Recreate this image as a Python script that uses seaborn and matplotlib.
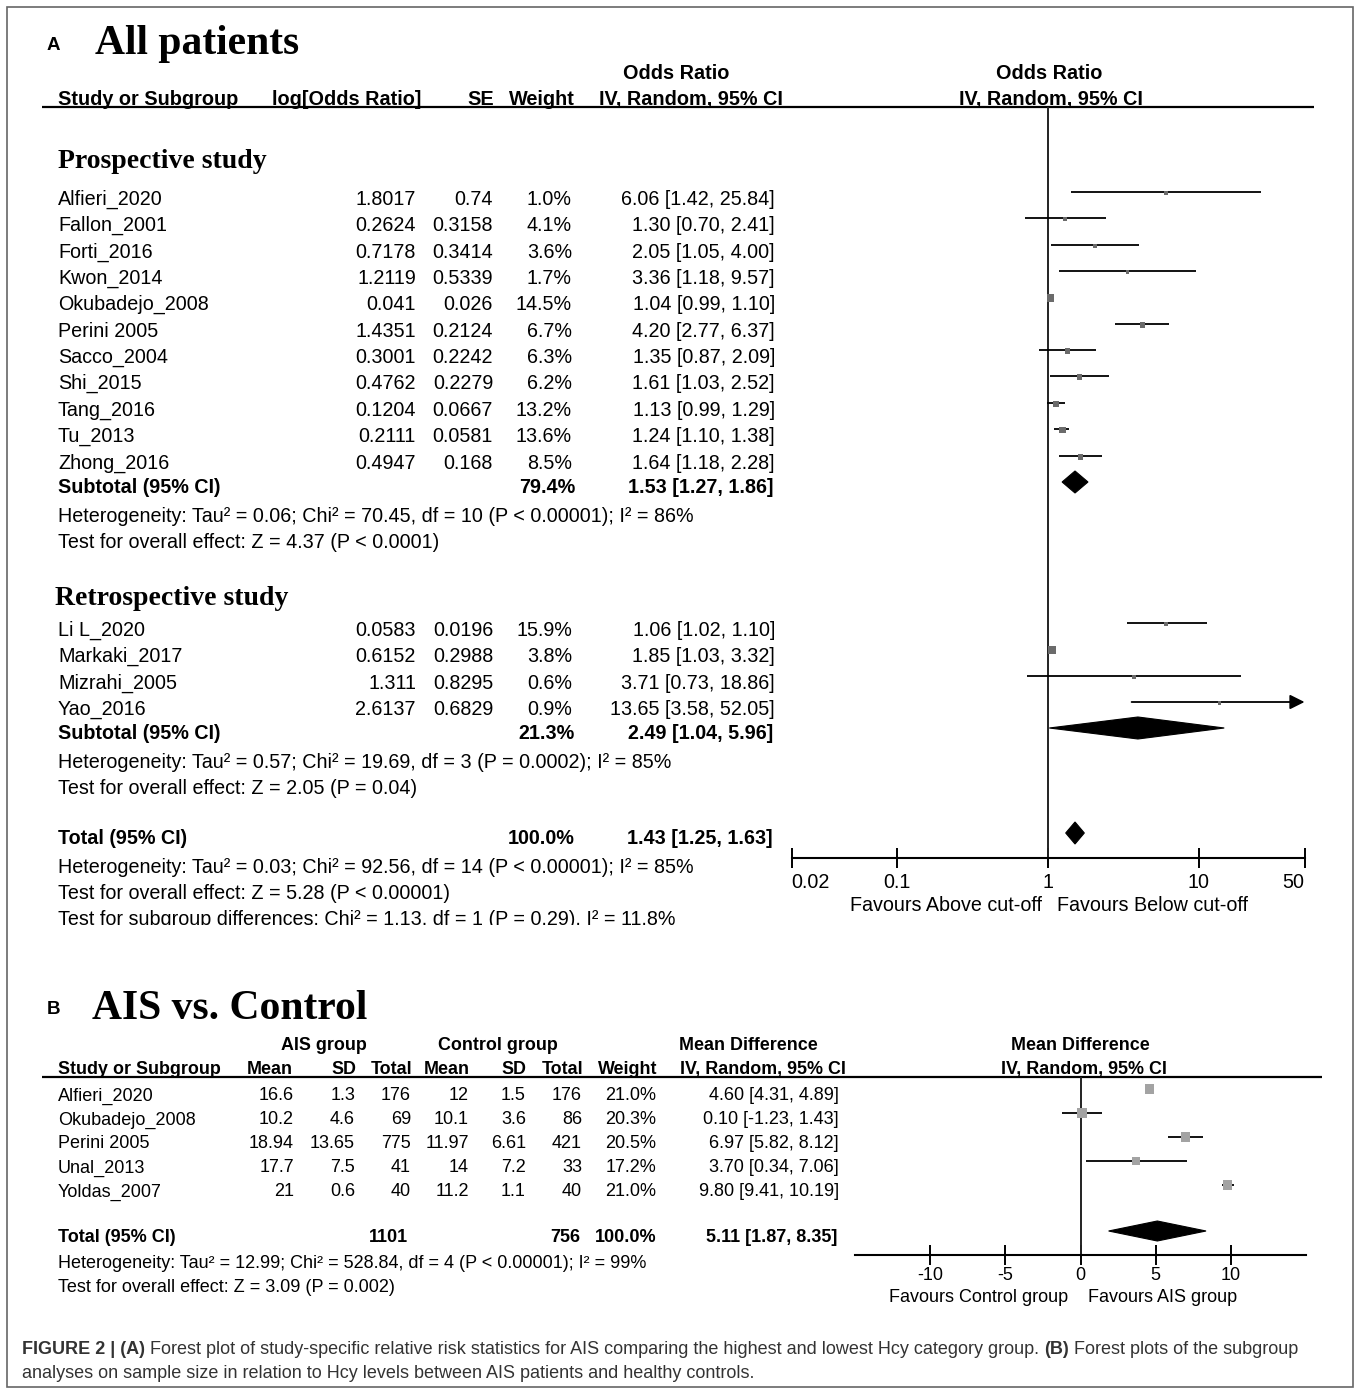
import matplotlib
matplotlib.use("Agg")
import matplotlib.pyplot as plt
from matplotlib import font_manager
from matplotlib.patches import Polygon, Rectangle
import seaborn as sns

# ---------------- data: panel A (odds ratios) ----------------
pro_names = ['Alfieri_2020', 'Fallon_2001', 'Forti_2016', 'Kwon_2014', 'Okubadejo_2008',
             'Perini 2005', 'Sacco_2004', 'Shi_2015', 'Tang_2016', 'Tu_2013', 'Zhong_2016']
pro_logor = ['1.8017', '0.2624', '0.7178', '1.2119', '0.041', '1.4351', '0.3001', '0.4762',
             '0.1204', '0.2111', '0.4947']
pro_se = ['0.74', '0.3158', '0.3414', '0.5339', '0.026', '0.2124', '0.2242', '0.2279',
          '0.0667', '0.0581', '0.168']
pro_weight = [1.0, 4.1, 3.6, 1.7, 14.5, 6.7, 6.3, 6.2, 13.2, 13.6, 8.5]
pro_or = [6.06, 1.30, 2.05, 3.36, 1.04, 4.20, 1.35, 1.61, 1.13, 1.24, 1.64]
pro_lo = [1.42, 0.70, 1.05, 1.18, 0.99, 2.77, 0.87, 1.03, 0.99, 1.10, 1.18]
pro_hi = [25.84, 2.41, 4.00, 9.57, 1.10, 6.37, 2.09, 2.52, 1.29, 1.38, 2.28]
pro_sub = (1.53, 1.27, 1.86, 79.4)

ret_names = ['Li L_2020', 'Markaki_2017', 'Mizrahi_2005', 'Yao_2016']
ret_logor = ['0.0583', '0.6152', '1.311', '2.6137']
ret_se = ['0.0196', '0.2988', '0.8295', '0.6829']
ret_weight = [15.9, 3.8, 0.6, 0.9]
ret_or = [1.06, 1.85, 3.71, 13.65]
ret_lo = [1.02, 1.03, 0.73, 3.58]
ret_hi = [1.10, 3.32, 18.86, 52.05]
ret_sub = (2.49, 1.04, 5.96, 21.3)
tot_a = (1.43, 1.25, 1.63, 100.0)

# the drawn marks in the source figure do not all match the printed numbers;
pro_sub_draw = (1.51, 1.24, 1.84)
ret_draw_or = [6.04, 1.06, 3.71, 13.65]
ret_draw_lo = [3.34, 1.02, 0.73, 3.58]
ret_draw_hi = [11.3, 1.10, 18.86, 52.05]
ret_draw_w = [1.0, 15.9, 0.6, 0.9]
ret_sub_draw = (3.94, 1.02, 14.7)
tot_a_draw = (1.51, 1.31, 1.74)

het_pro = 'Heterogeneity: Tau² = 0.06; Chi² = 70.45, df = 10 (P < 0.00001); I² = 86%'
eff_pro = 'Test for overall effect: Z = 4.37 (P < 0.0001)'
het_ret = 'Heterogeneity: Tau² = 0.57; Chi² = 19.69, df = 3 (P = 0.0002); I² = 85%'
eff_ret = 'Test for overall effect: Z = 2.05 (P = 0.04)'
het_tot = 'Heterogeneity: Tau² = 0.03; Chi² = 92.56, df = 14 (P < 0.00001); I² = 85%'
eff_tot = 'Test for overall effect: Z = 5.28 (P < 0.00001)'
sub_diff = 'Test for subgroup differences: Chi² = 1.13, df = 1 (P = 0.29), I² = 11.8%'
or_ticks = [0.02, 0.1, 1, 10, 50]
or_ticklabels = ['0.02', '0.1', '1', '10', '50']

# ---------------- data: panel B (mean difference) ----------------
b_names = ['Alfieri_2020', 'Okubadejo_2008', 'Perini 2005', 'Unal_2013', 'Yoldas_2007']
b_mean1 = ['16.6', '10.2', '18.94', '17.7', '21']
b_sd1 = ['1.3', '4.6', '13.65', '7.5', '0.6']
b_n1 = [176, 69, 775, 41, 40]
b_mean2 = ['12', '10.1', '11.97', '14', '11.2']
b_sd2 = ['1.5', '3.6', '6.61', '7.2', '1.1']
b_n2 = [176, 86, 421, 33, 40]
b_weight = [21.0, 20.3, 20.5, 17.2, 21.0]
b_md = [4.60, 0.10, 6.97, 3.70, 9.80]
b_lo = [4.31, -1.23, 5.82, 0.34, 9.41]
b_hi = [4.89, 1.43, 8.12, 7.06, 10.19]
b_tot = (5.11, 1.87, 8.35)
het_b = 'Heterogeneity: Tau² = 12.99; Chi² = 528.84, df = 4 (P < 0.00001); I² = 99%'
eff_b = 'Test for overall effect: Z = 3.09 (P = 0.002)'
md_ticks = [-10, -5, 0, 5, 10]

caption1 = [('FIGURE 2 | (A)', True),
            (' Forest plot of study-specific relative risk statistics for AIS comparing the highest and lowest Hcy category group. ', False),
            ('(B)', True), (' Forest plots of the subgroup', False)]
caption2 = 'analyses on sample size in relation to Hcy levels between AIS patients and healthy controls.'

# ---------------- style ----------------
sns.set_theme(style='white')
installed = {f.name for f in font_manager.fontManager.ttflist}
SANS = 'Liberation Sans' if 'Liberation Sans' in installed else 'DejaVu Sans'
SERIF = 'Liberation Serif' if 'Liberation Serif' in installed else 'DejaVu Serif'
plt.rcParams['font.family'] = [SANS, 'DejaVu Sans']
plt.rcParams['text.color'] = 'black'

W, H = 1357, 1388
fig = plt.figure(figsize=(W / 100, H / 100), dpi=100)
fig.patch.set_facecolor('white')

# overlay in pixel coordinates for all table text
tx = fig.add_axes([0, 0, 1, 1])
tx.set_xlim(0, W)
tx.set_ylim(H, 0)
tx.axis('off')

FS_A = 14.2     # body text panel A
HD_A = 14.3     # bold headers panel A
FS_B = 13.0
HD_B = 12.85
FS_CAP = 12.95


def put(x, y, s, ha='left', fs=FS_A, bold=False, **kw):
    # y is the visual middle of capitals; convert to baseline
    cap = fs * 100 / 72 * 0.716
    return tx.text(x, y + cap / 2, s, ha=ha, va='baseline', fontsize=fs,
                   fontweight='bold' if bold else 'normal', **kw)


def sq_side(w):
    # box side in px grows with study weight
    return 3.5 + 0.25 * w


def fax(x0, x1, y0, y1):
    return fig.add_axes([x0 / W, 1 - y1 / H, (x1 - x0) / W, (y1 - y0) / H])


def style_axis(ax, fs, pad):
    ax.minorticks_off()
    ax.tick_params(axis='x', direction='inout', length=14, width=1.4, pad=pad,
                   labelsize=fs, colors='black', bottom=True)
    ax.set_yticks([])
    for sp in ['top', 'left', 'right']:
        ax.spines[sp].set_visible(False)
    ax.spines['bottom'].set_color('black')
    ax.spines['bottom'].set_linewidth(1.5)
    ax.patch.set_alpha(0)


# ================= panel A =================
put(47, 43, 'A', fs=13.5, bold=True)
tx.text(95, 54, 'All patients', fontsize=30, fontweight='bold', family=SERIF, va='baseline')

put(676, 72, 'Odds Ratio', ha='center', bold=True, fs=HD_A)
put(1049, 72, 'Odds Ratio', ha='center', bold=True, fs=HD_A)
put(58, 98, 'Study or Subgroup', bold=True, fs=HD_A)
put(347, 98, 'log[Odds Ratio]', ha='center', bold=True, fs=HD_A)
put(494, 98, 'SE', ha='right', bold=True, fs=HD_A)
put(575, 98, 'Weight', ha='right', bold=True, fs=HD_A)
put(691, 98, 'IV, Random, 95% CI', ha='center', bold=True, fs=HD_A)
put(1051, 98, 'IV, Random, 95% CI', ha='center', bold=True, fs=HD_A)
tx.plot([42, 1314], [107, 107], color='black', lw=1.6, solid_capstyle='butt')

tx.text(58, 168, 'Prospective study', fontsize=20, fontweight='bold', family=SERIF, va='baseline')
tx.text(55, 605, 'Retrospective study', fontsize=20, fontweight='bold', family=SERIF, va='baseline')

ROW_A = 26.35
pro_y = [round(198 + i * ROW_A) for i in range(len(pro_names))]
ret_y = [round(629 + i * ROW_A) for i in range(len(ret_names))]


def or_row(y, name, lg, se, w, o, lo, hi):
    put(58, y, name)
    put(416, y, lg, ha='right')
    put(493, y, se, ha='right')
    put(572, y, f'{w:.1f}%', ha='right')
    put(775, y, f'{o:.2f} [{lo:.2f}, {hi:.2f}]', ha='right')


for i in range(len(pro_names)):
    or_row(pro_y[i], pro_names[i], pro_logor[i], pro_se[i], pro_weight[i],
           pro_or[i], pro_lo[i], pro_hi[i])
for i in range(len(ret_names)):
    or_row(ret_y[i], ret_names[i], ret_logor[i], ret_se[i], ret_weight[i],
           ret_or[i], ret_lo[i], ret_hi[i])

for y, lab, sub in [(486, 'Subtotal (95% CI)', pro_sub), (732, 'Subtotal (95% CI)', ret_sub),
                    (837, 'Total (95% CI)', tot_a)]:
    put(58, y, lab, bold=True)
    put(575, y, f'{sub[3]:.1f}%', ha='right', bold=True)
    put(773, y, f'{sub[0]:.2f} [{sub[1]:.2f}, {sub[2]:.2f}]', ha='right', bold=True)

put(58, 515, het_pro)
put(58, 541, eff_pro)
put(58, 761, het_ret)
put(58, 787, eff_ret)
put(58, 866, het_tot)
put(58, 892, eff_tot)
put(58, 918, sub_diff)
# the source crops the last line of panel A
tx.add_patch(Rectangle((20, 925), 760, 30, facecolor='white', edgecolor='none', zorder=5))

put(1042, 904, 'Favours Above cut-off', ha='right')
put(1057, 904, 'Favours Below cut-off', ha='left')

# forest plot A (log scale, y in pixel units)
axA = fax(791.5, 1304.5, 107, 858)
axA.set_xscale('log')
axA.set_xlim(0.02, 50)
axA.set_ylim(858, 107)
axA.axvline(1, color='#222222', lw=1.4, zorder=1)

ys_pts = [y - 6 for y in pro_y] + [y - 6 for y in ret_y]
est = pro_or + ret_draw_or
los = pro_lo + ret_draw_lo
his = pro_hi + ret_draw_hi
wts = pro_weight + ret_draw_w
for y, lo, hi in zip(ys_pts, los, his):
    if hi > 50:
        axA.annotate('', xy=(50, y), xytext=(lo, y),
                     arrowprops=dict(arrowstyle='-|>', color='black', lw=1.3,
                                     mutation_scale=22, shrinkA=0, shrinkB=0))
    else:
        axA.hlines(y, lo, hi, color='black', lw=1.3, zorder=2)
sizes = [(sq_side(w) * 0.72) ** 2 for w in wts]
sns.scatterplot(x=est, y=[y + 1 for y in ys_pts], marker='s', s=sizes, color='#6b6b6b',
                linewidth=0, ax=axA, legend=False, zorder=3)

for (c, lo, hi), y in [(pro_sub_draw, 482), (ret_sub_draw, 728), (tot_a_draw, 833)]:
    axA.add_patch(Polygon([(lo, y), (c, y - 11), (hi, y), (c, y + 11)],
                          closed=True, facecolor='black', edgecolor='black', lw=0.8, zorder=3))

axA.set_xticks(or_ticks)
axA.set_xticklabels(or_ticklabels)
style_axis(axA, FS_A, 4)
axA.get_xticklabels()[0].set_ha('left')
axA.get_xticklabels()[-1].set_ha('right')

# ================= panel B =================
put(47, 1007, 'B', fs=13.5, bold=True)
tx.text(92, 1019, 'AIS vs. Control', fontsize=30, fontweight='bold', family=SERIF, va='baseline')

put(324, 1044, 'AIS group', ha='center', bold=True, fs=HD_B)
put(498, 1044, 'Control group', ha='center', bold=True, fs=HD_B)
put(748, 1044, 'Mean Difference', ha='center', bold=True, fs=HD_B)
put(1080, 1044, 'Mean Difference', ha='center', bold=True, fs=HD_B)
hdr = [(58, 'Study or Subgroup', 'left'), (293, 'Mean', 'right'), (356, 'SD', 'right'),
       (412, 'Total', 'right'), (470, 'Mean', 'right'), (526, 'SD', 'right'),
       (583, 'Total', 'right'), (657, 'Weight', 'right'),
       (763, 'IV, Random, 95% CI', 'center'), (1084, 'IV, Random, 95% CI', 'center')]
for x, s, ha in hdr:
    put(x, 1068, s, ha=ha, bold=True, fs=HD_B)
tx.plot([42, 1322], [1077, 1077], color='black', lw=1.6, solid_capstyle='butt')

ROW_B = 24
b_y = [1094 + i * ROW_B for i in range(len(b_names))]
for i, y in enumerate(b_y):
    put(58, y, b_names[i], fs=FS_B)
    put(294, y, b_mean1[i], ha='right', fs=FS_B)
    put(355, y, b_sd1[i], ha='right', fs=FS_B)
    put(411, y, str(b_n1[i]), ha='right', fs=FS_B)
    put(469, y, b_mean2[i], ha='right', fs=FS_B)
    put(526, y, b_sd2[i], ha='right', fs=FS_B)
    put(582, y, str(b_n2[i]), ha='right', fs=FS_B)
    put(656, y, f'{b_weight[i]:.1f}%', ha='right', fs=FS_B)
    put(839, y, f'{b_md[i]:.2f} [{b_lo[i]:.2f}, {b_hi[i]:.2f}]', ha='right', fs=FS_B)

put(58, 1236, 'Total (95% CI)', bold=True, fs=FS_B)
put(408, 1236, str(sum(b_n1)), ha='right', bold=True, fs=FS_B)
put(580, 1236, str(sum(b_n2)), ha='right', bold=True, fs=FS_B)
put(657, 1236, f'{sum(b_weight):.1f}%', ha='right', bold=True, fs=FS_B)
put(837, 1236, f'{b_tot[0]:.2f} [{b_tot[1]:.2f}, {b_tot[2]:.2f}]', ha='right', bold=True, fs=FS_B)
put(58, 1262, het_b, fs=FS_B)
put(58, 1286, eff_b, fs=FS_B)

put(1068, 1296, 'Favours Control group', ha='right', fs=12.95)
put(1088, 1296, 'Favours AIS group', ha='left', fs=12.95)

axB = fax(855, 1306, 1077, 1255)
axB.set_xlim(-15, 15)
axB.set_ylim(1255, 1077)
axB.axvline(0, color='#222222', lw=1.4, zorder=1)
yb = [y - 5 for y in b_y]
axB.hlines(yb, b_lo, b_hi, color='black', lw=1.3, zorder=2)
sns.scatterplot(x=b_md, y=yb, marker='s', s=[((4 + 0.25 * w) * 0.72) ** 2 for w in b_weight],
                color='#a3a3a3', linewidth=0, ax=axB, legend=False, zorder=3)
yt = 1231
axB.add_patch(Polygon([(b_tot[1], yt), (b_tot[0], yt - 10), (b_tot[2], yt), (b_tot[0], yt + 10)],
                      closed=True, facecolor='black', edgecolor='black', lw=0.8, zorder=3))
axB.set_xticks(md_ticks)
axB.set_xticklabels([str(t) for t in md_ticks])
style_axis(axB, 13.0, 1.5)

# ================= caption =================
fig.canvas.draw()
rend = fig.canvas.get_renderer()
x = 22
for s, b in caption1:
    t = put(x, 1348, s, fs=FS_CAP, bold=b, color='#333333')
    x += t.get_window_extent(renderer=rend).width
put(22, 1372, caption2, fs=FS_CAP, color='#333333')

# frame round the whole figure
tx.add_patch(Rectangle((7, 7), 1346, 1380, facecolor='none', edgecolor='#666666', lw=1.2, zorder=6))

fig.savefig('out.png', dpi=100, facecolor='white')
